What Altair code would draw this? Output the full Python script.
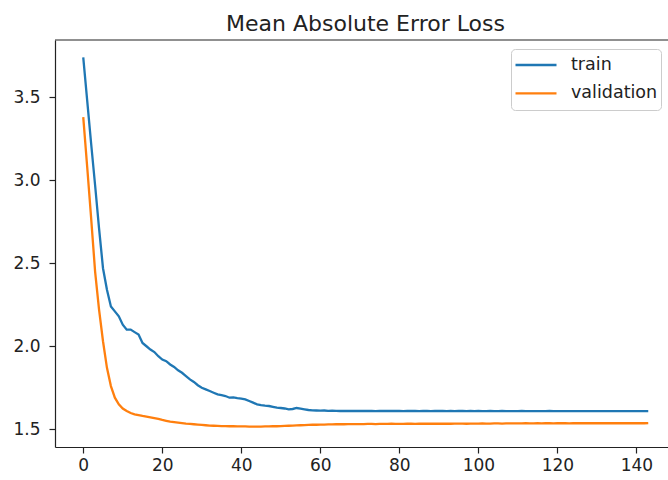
import altair as alt
import pandas as pd

# Per-epoch loss history (144 epochs)
epochs = list(range(144))

train_loss = [
    3.74, 3.48, 3.22, 2.97, 2.71, 2.47, 2.34, 2.24, 2.21, 2.18,
    2.13, 2.10, 2.10, 2.085, 2.07, 2.02, 2.00, 1.98, 1.965, 1.94,
    1.92, 1.91, 1.89, 1.875, 1.855, 1.84, 1.82, 1.80, 1.785, 1.765,
    1.75, 1.74, 1.73, 1.72, 1.71, 1.705, 1.70, 1.69, 1.692, 1.688,
    1.685, 1.68, 1.67, 1.66, 1.65, 1.645, 1.642, 1.64, 1.635, 1.63,
    1.628, 1.625, 1.62, 1.622, 1.628, 1.624, 1.62, 1.616, 1.614, 1.613,
    1.612, 1.613, 1.611, 1.612, 1.611, 1.610, 1.611, 1.610, 1.610, 1.611,
    1.610, 1.611, 1.610, 1.610, 1.609, 1.610, 1.610, 1.611, 1.610, 1.610,
    1.610, 1.609, 1.610, 1.610, 1.610, 1.609, 1.610, 1.610, 1.609, 1.610,
    1.610, 1.610, 1.609, 1.610, 1.609, 1.610, 1.610, 1.609, 1.610, 1.609,
    1.610, 1.609, 1.609, 1.610, 1.609, 1.609, 1.610, 1.609, 1.609, 1.609,
    1.609, 1.610, 1.609, 1.609, 1.609, 1.609, 1.609, 1.609, 1.610, 1.609,
    1.609, 1.609, 1.609, 1.609, 1.609, 1.609, 1.609, 1.609, 1.609, 1.609,
    1.609, 1.609, 1.609, 1.609, 1.609, 1.609, 1.609, 1.609, 1.609, 1.609,
    1.609, 1.609, 1.609, 1.609,
]

val_loss = [
    3.38, 3.08, 2.77, 2.45, 2.22, 2.03, 1.87, 1.76, 1.69, 1.65,
    1.625, 1.61, 1.598, 1.590, 1.585, 1.580, 1.576, 1.572, 1.567, 1.562,
    1.556, 1.551, 1.546, 1.543, 1.540, 1.537, 1.534, 1.532, 1.530, 1.528,
    1.526, 1.524, 1.522, 1.521, 1.520, 1.519, 1.519, 1.518, 1.518, 1.517,
    1.517, 1.517, 1.516, 1.516, 1.516, 1.516, 1.517, 1.517, 1.518, 1.518,
    1.519, 1.520, 1.521, 1.522, 1.523, 1.524, 1.525, 1.526, 1.527, 1.527,
    1.528, 1.528, 1.529, 1.529, 1.530, 1.530, 1.530, 1.531, 1.531, 1.531,
    1.531, 1.531, 1.532, 1.532, 1.531, 1.532, 1.532, 1.532, 1.533, 1.532,
    1.532, 1.532, 1.533, 1.533, 1.532, 1.533, 1.533, 1.533, 1.533, 1.534,
    1.533, 1.533, 1.534, 1.533, 1.534, 1.534, 1.534, 1.533, 1.534, 1.534,
    1.534, 1.535, 1.534, 1.534, 1.535, 1.535, 1.534, 1.535, 1.535, 1.535,
    1.535, 1.535, 1.536, 1.535, 1.535, 1.536, 1.535, 1.536, 1.536, 1.535,
    1.536, 1.536, 1.536, 1.535, 1.536, 1.536, 1.536, 1.536, 1.537, 1.536,
    1.536, 1.536, 1.537, 1.536, 1.536, 1.536, 1.537, 1.536, 1.536, 1.537,
    1.536, 1.537, 1.536, 1.537,
]

series_names = ["train", "validation"]
series_colors = ["#1f77b4", "#ff7f0e"]
x_ticks = [0, 20, 40, 60, 80, 100, 120, 140]
y_ticks = [1.5, 2.0, 2.5, 3.0, 3.5]
chart_title = "Mean Absolute Error Loss"

df = pd.DataFrame({
    "epoch": epochs + epochs,
    "loss": train_loss + val_loss,
    "series": [series_names[0]] * len(train_loss) + [series_names[1]] * len(val_loss),
})

FONT = "DejaVu Sans"
INK = "#222222"

axis_style = dict(
    grid=False,
    title=None,
    domainColor=INK,
    domainWidth=1.2,
    tickColor=INK,
    tickWidth=1.2,
    tickSize=6,
    labelFont=FONT,
    labelFontSize=17,
    labelColor=INK,
)

lines = alt.Chart(df).mark_line(strokeWidth=2.3, clip=True).encode(
    x=alt.X(
        "epoch:Q",
        scale=alt.Scale(domain=[-7.15, 148.0], nice=False, zero=False),
        axis=alt.Axis(values=x_ticks, format="d", labelPadding=4, **axis_style),
    ),
    y=alt.Y(
        "loss:Q",
        scale=alt.Scale(domain=[1.393, 3.845], nice=False, zero=False),
        axis=alt.Axis(values=y_ticks, format=".1f", labelPadding=9, **axis_style),
    ),
    color=alt.Color(
        "series:N",
        scale=alt.Scale(domain=series_names, range=series_colors),
        legend=alt.Legend(
            title=None,
            orient="none",
            legendX=456,
            legendY=9,
            symbolType="stroke",
            symbolSize=1681,
            symbolStrokeWidth=2.3,
            clipHeight=26,
            rowPadding=2.4,
            padding=3,
            labelFont=FONT,
            labelFontSize=17.5,
            labelColor=INK,
            labelOffset=13,
            strokeColor="#cccccc",
            fillColor="white",
            cornerRadius=4,
        ),
    ),
)

one_row = alt.Data(values=[{"label": chart_title}])

# top frame line of the axes box
top_spine = alt.Chart(one_row).mark_rule(
    color=INK, strokeWidth=1.2
).encode(y=alt.value(0))

# title centred over the full axes box (which runs to x=621 in plot coordinates)
title_text = alt.Chart(one_row).mark_text(
    font=FONT, fontSize=22, color=INK, align="center", baseline="alphabetic"
).encode(
    text="label:N",
    x=alt.value(310.5),
    y=alt.value(-9),
)

chart = alt.layer(lines, top_spine, title_text).properties(
    width=613,
    height=407,
    autosize=alt.AutoSizeParams(type="none"),
    padding={"left": 55, "top": 40, "right": 0, "bottom": 33},
    background="white",
).configure_view(stroke=None)

chart.save("out.html", embed_options={"renderer": "svg", "actions": False})
